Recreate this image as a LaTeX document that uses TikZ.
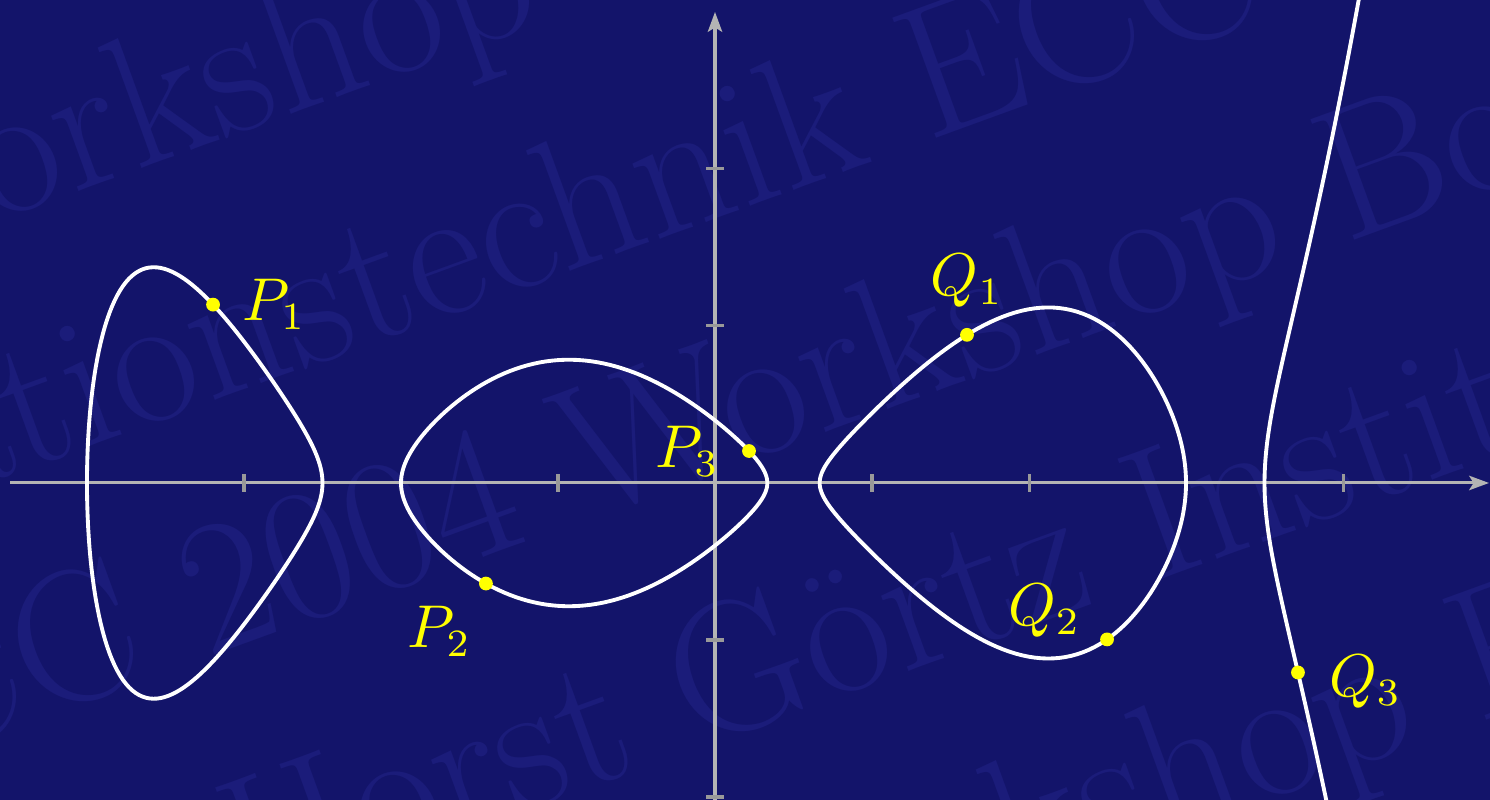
\documentclass[tikz,border=0pt]{standalone}
\usetikzlibrary{positioning,arrows.meta}

\definecolor{slidebg}{HTML}{13146A}
\definecolor{wmblue}{HTML}{1B1C7A}
\definecolor{axisgray}{HTML}{B4B4B4}
\definecolor{ptyellow}{HTML}{FFFF00}

\begin{document}
\begin{tikzpicture}[
    >={Stealth[length=3.6pt,width=2.6pt,inset=0.8pt]},
    declare function={
      hleft(\x)=(\x+2)*(\x-1/3)*(\x-2/3)*(\x-3)*(\x-3.5)*0.0034;
      hmid(\x)=(\x+4)*(\x+2.5)*(\x-2/3)*(\x-3)*(\x-3.5)*0.0034;
      hright(\x)=(\x+4)*(\x+2.5)*(\x+2)*(\x-1/3)*(\x-3.5)*0.0034;
      hbranch(\x)=(\x+4)*(\x+2.5)*(\x+2)*(\x-1/3)*(\x-2/3)*(\x-3)*0.0034;
      fc(\x)=(\x+4)*(\x+2.5)*(\x+2)*(\x-1/3)*(\x-2/3)*(\x-3)*(\x-3.5)*0.0034;
    },
    wmark/.style={text=wmblue, font=\fontsize{34}{34}\selectfont, inner sep=0pt, anchor=base west},
    axisline/.style={draw=axisgray, line width=0.55pt},
    tickmark/.style={draw=axisgray!85!black, line width=0.55pt},
    curve/.style={draw=white, line width=0.7pt},
    ptdot/.style={circle, fill=ptyellow, inner sep=0pt, minimum size=2.5pt},
    lbl/.style={text=ptyellow, font=\fontsize{10.5}{12}\selectfont, inner sep=0pt},
]

% ---- Frame + background -------------------------------------------
\useasboundingbox (-4.554,-2.013) rectangle (4.936,3.076);
\fill[slidebg] (-4.8,-2.3) rectangle (5.2,3.3);

\begin{scope}
\clip (-4.8,-2.3) rectangle (5.2,3.3);

% ---- Watermark ----------------------------------------------------
\begin{scope}[rotate=20, transform shape]
    \node[wmark] (wm1) at (-4.81,3.13)  {Workshop ECC 2004 Workshop};
    \node[wmark] (wm2) at (-7.9,1.58)   {Informationstechnik ECC 2004 Workshop};
    \node[wmark] (wm3) at (-6.13,0.06)  {ECC 2004 Workshop Bochum};
    \node[wmark] (wm4) at (-3.72,-1.55) {Horst Görtz Institut};
    \node[wmark] (wm5) at (-6.39,-3.1)  {ECC 2004 Workshop Bochum};
\end{scope}

% ---- Axes ---------------------------------------------------------
\coordinate (xlo) at (-4.49,0);
\coordinate (xhi) at (4.93,0);
\coordinate (ylo) at (0,-2.1);
\coordinate (yhi) at (0,3.0);
\draw[axisline, ->] (xlo) -- (xhi);
\draw[axisline, ->] (ylo) -- (yhi);
\foreach \k in {-3,-1,1,2,4}
    \draw[tickmark] (\k,-0.055) -- (\k,0.055);
\foreach \k in {-2,-1,1,2}
    \draw[tickmark] (-0.055,\k) -- (0.055,\k);

% ---- Curve y^2 = f(x) ---------------------------------------------
\draw[curve] plot[domain=0:360, samples=181, variable=\t]
    ({-3.25-0.75*cos(\t)}, {0.75*sin(\t)*sqrt(abs(hleft(-3.25-0.75*cos(\t))))}) -- cycle;
\draw[curve] plot[domain=0:360, samples=181, variable=\t]
    ({-0.83333-1.16667*cos(\t)}, {1.16667*sin(\t)*sqrt(abs(hmid(-0.83333-1.16667*cos(\t))))}) -- cycle;
\draw[curve] plot[domain=0:360, samples=181, variable=\t]
    ({1.83333-1.16667*cos(\t)}, {1.16667*sin(\t)*sqrt(abs(hright(1.83333-1.16667*cos(\t))))}) -- cycle;
\draw[curve] plot[domain=-0.7:0.82, samples=120, variable=\s]
    ({3.5+\s*\s}, {\s*sqrt(abs(hbranch(3.5+\s*\s)))});

\end{scope}

% ---- Points -------------------------------------------------------
\node[ptdot] (p1) at ({-3.197},{sqrt(abs(fc(-3.197)))}) {};
\node[ptdot] (p2) at ({-1.459},{-sqrt(abs(fc(-1.459)))}) {};
\node[ptdot] (p3) at ({0.2166},{sqrt(abs(fc(0.2166)))}) {};
\node[ptdot] (q1) at ({1.605},{sqrt(abs(fc(1.605)))}) {};
\node[ptdot] (q2) at ({2.497},{-sqrt(abs(fc(2.497)))}) {};
\node[ptdot] (q3) at ({3.713},{-sqrt(abs(fc(3.713)))}) {};

% ---- Labels -------------------------------------------------------
\node[lbl, right=1.3mm of p1] (lp1) {$P_1$};
\node[lbl, below left=1mm and 0.5mm of p2] (lp2) {$P_2$};
\node[lbl, left=1.3mm of p3] (lp3) {$P_3$};
\node[lbl, above=1.2mm of q1] (lq1) {$Q_1$};
\node[lbl, left=1.1mm of q2, yshift=1.8mm] (lq2) {$Q_2$};
\node[lbl, right=1.4mm of q3, yshift=-0.6mm] (lq3) {$Q_3$};

\end{tikzpicture}
\end{document}
